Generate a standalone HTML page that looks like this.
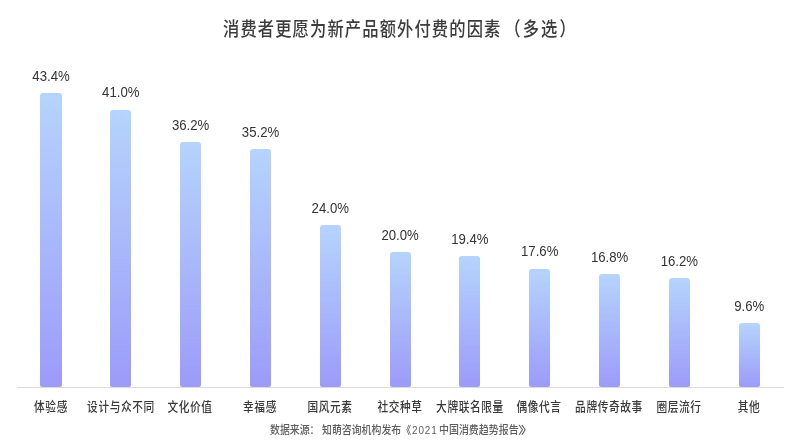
<!DOCTYPE html>
<html lang="zh-CN"><head><meta charset="utf-8"><title>消费者更愿为新产品额外付费的因素</title>
<style>
html,body{margin:0;padding:0;background:#fff;}
body{width:800px;height:444px;position:relative;overflow:hidden;font-family:"Liberation Sans","Noto Sans CJK SC",sans-serif;}
.t{position:absolute;white-space:nowrap;line-height:1;transform-origin:50% 50%;}
.title{left:223.2px;top:19.5px;font-size:19.4px;font-weight:500;color:#3c3c3c;transform-origin:0 50%;transform:scaleX(.84);letter-spacing:1.33px;}
.bar{position:absolute;width:21.2px;border-radius:3px 3px 2px 2px;background:linear-gradient(180deg,#b5d4fc 0%,#9c9bf9 100%);}
.v{font-size:13.2px;color:#333;width:80px;text-align:center;transform:scaleY(1.05);}
.l{font-size:12.6px;font-weight:500;color:#383838;width:120px;text-align:center;top:401px;transform:scaleX(.85);letter-spacing:.7px;}
.axis{position:absolute;left:16.5px;width:767.5px;top:387px;height:1px;background:#dcdcdc;}
.s{top:424.5px;font-size:11px;font-weight:500;color:#5c5c5c;transform-origin:0 50%;transform:scaleX(.9);}
</style></head><body>
<div class="t title">消费者更愿为新产品额外付费的因素<span style="margin-left:3.4px;letter-spacing:2.5px">（多选）</span></div>
<div class="axis"></div>
<div class="bar" style="left:40.4px;top:93.2px;height:293.6px"></div>
<div class="t v" style="left:11.0px;top:69.8px">43.4%</div>
<div class="t l" style="left:-9.3px">体验感</div>
<div class="bar" style="left:110.2px;top:109.5px;height:277.3px"></div>
<div class="t v" style="left:80.8px;top:86.1px">41.0%</div>
<div class="t l" style="left:60.5px">设计与众不同</div>
<div class="bar" style="left:180.0px;top:142.1px;height:244.7px"></div>
<div class="t v" style="left:150.6px;top:118.7px">36.2%</div>
<div class="t l" style="left:130.3px">文化价值</div>
<div class="bar" style="left:249.9px;top:148.9px;height:237.9px"></div>
<div class="t v" style="left:220.5px;top:125.5px">35.2%</div>
<div class="t l" style="left:200.2px">幸福感</div>
<div class="bar" style="left:319.7px;top:225.1px;height:161.7px"></div>
<div class="t v" style="left:290.3px;top:201.7px">24.0%</div>
<div class="t l" style="left:270.0px">国风元素</div>
<div class="bar" style="left:389.5px;top:252.3px;height:134.5px"></div>
<div class="t v" style="left:360.1px;top:228.9px">20.0%</div>
<div class="t l" style="left:339.8px">社交种草</div>
<div class="bar" style="left:459.3px;top:256.4px;height:130.4px"></div>
<div class="t v" style="left:429.9px;top:233.0px">19.4%</div>
<div class="t l" style="left:409.6px">大牌联名限量</div>
<div class="bar" style="left:529.1px;top:268.6px;height:118.2px"></div>
<div class="t v" style="left:499.7px;top:245.2px">17.6%</div>
<div class="t l" style="left:479.4px">偶像代言</div>
<div class="bar" style="left:599.0px;top:274.1px;height:112.7px"></div>
<div class="t v" style="left:569.6px;top:250.7px">16.8%</div>
<div class="t l" style="left:549.3px">品牌传奇故事</div>
<div class="bar" style="left:668.8px;top:278.1px;height:108.7px"></div>
<div class="t v" style="left:639.4px;top:254.7px">16.2%</div>
<div class="t l" style="left:619.1px">圈层流行</div>
<div class="bar" style="left:738.6px;top:323.0px;height:63.8px"></div>
<div class="t v" style="left:709.2px;top:299.6px">9.6%</div>
<div class="t l" style="left:688.9px">其他</div>
<div class="t s" style="left:270.2px">数据来源：</div><div class="t s" style="left:322.4px">知萌咨询机构发布《</div><div class="t s" style="left:412px;letter-spacing:1px;font-weight:400">2021</div><div class="t s" style="left:439px;transform:scaleX(.905)">中国消费趋势报告</div><div class="t s" style="left:518.2px;transform:scaleX(1.5)">》</div>
</body></html>
